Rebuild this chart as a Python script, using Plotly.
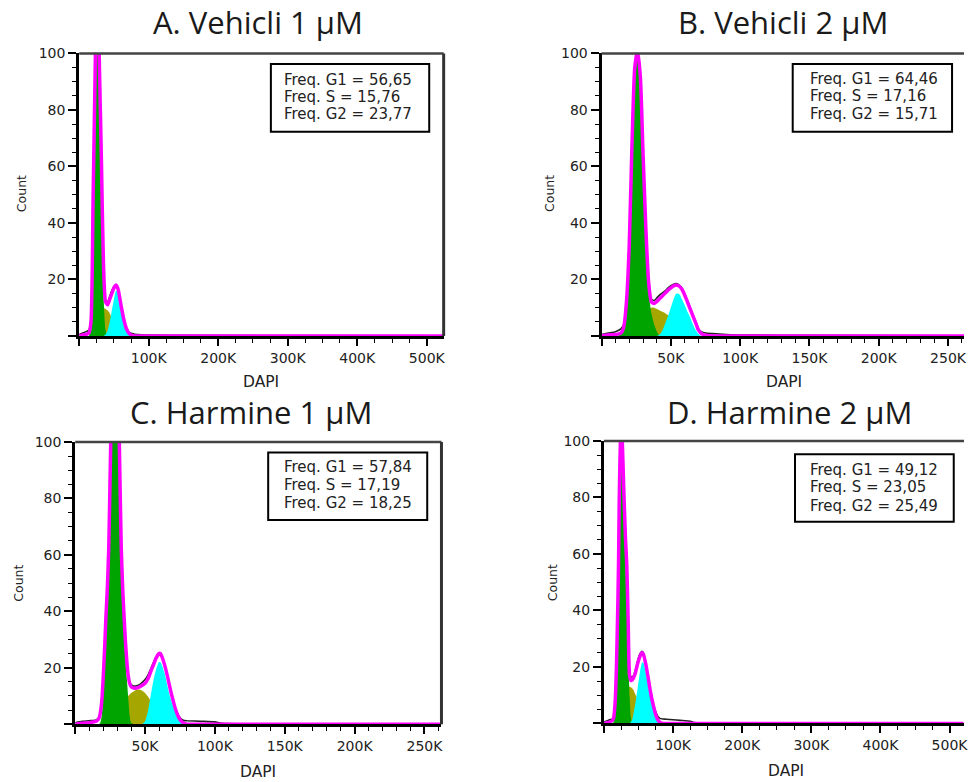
import plotly.graph_objects as go

W, H = 968, 782

# ---------------- text content ----------------
TITLES = ["A. Vehicli 1 µM", "B. Vehicli 2 µM", "C. Harmine 1 µM", "D. Harmine 2 µM"]
FREQ_G1 = ["56,65", "64,46", "57,84", "49,12"]
FREQ_S = ["15,76", "17,16", "17,19", "23,05"]
FREQ_G2 = ["23,77", "15,71", "18,25", "25,49"]

X_TICKS_500K = [0, 100, 200, 300, 400, 500]
X_TICKTEXT_500K = ["", "100K", "200K", "300K", "400K", "500K"]
X_TICKS_250K = [0, 50, 100, 150, 200, 250]
X_TICKTEXT_250K = ["", "50K", "100K", "150K", "200K", "250K"]
Y_TICKS = [0, 20, 40, 60, 80, 100]
Y_TICKTEXT = ["", "20", "40", "60", "80", "100"]

# ---------------- data (DAPI in K, counts) ----------------
# Panel A
DAPI_A = [0, 5, 10, 14, 17, 20, 23, 26, 29, 32, 35, 38, 41, 44, 47, 50, 53, 56, 59, 62, 65, 68, 72, 76, 80, 90, 100, 150, 524.288]
G1_A = [0, 0, 0, 0, 4, 45, 88, 128, 88, 52, 15, 2, 0, 0, 0, 0, 0, 0, 0, 0, 0, 0, 0, 0, 0, 0, 0, 0, 0]
S_A = [0, 0, 0, 0, 0, 3, 6, 8, 9, 10, 10, 9.5, 9, 8, 6, 4, 2, 1, 0, 0, 0, 0, 0, 0, 0, 0, 0, 0, 0]
G2_A = [0, 0, 0, 0, 0, 0, 0, 0, 0, 0, 0, 0.5, 2, 5, 9, 13, 16, 15.5, 12.5, 8.5, 5, 2.5, 0.7, 0, 0, 0, 0, 0, 0]
MODEL_A = [0, 0.3, 0.5, 1, 5, 48, 94, 136, 97, 62, 25, 12, 11, 13, 15, 17, 18, 16.5, 12.5, 8.5, 5, 2.5, 0.8, 0.2, 0, 0, 0, 0, 0]
RAW_A = [0.5, 1, 1.5, 2, 6, 47, 92, 135, 96, 60, 24, 12.5, 12, 14, 16, 17.5, 18, 16.5, 12.5, 8, 5, 2.5, 1.2, 0.8, 0.6, 0.4, 0.3, 0.2, 0]

# Panel B
DAPI_B = [0, 5, 10, 14, 16, 18, 20, 22, 24, 26, 28, 30, 32, 34, 36, 38, 40, 42, 44, 46, 48, 50, 52, 54, 56, 58, 60, 62, 64, 66, 68, 70, 72, 75, 80, 90, 100, 150, 262.144]
G1_B = [0, 0, 0, 0.5, 2.5, 12, 30, 65, 93, 100, 90, 62, 35, 16, 8, 4, 1.5, 0, 0, 0, 0, 0, 0, 0, 0, 0, 0, 0, 0, 0, 0, 0, 0, 0, 0, 0, 0, 0, 0]
S_B = [0, 0, 0, 0, 1, 2, 3, 4, 5, 6, 7, 8.5, 9, 9.5, 10, 10, 9.5, 9, 8.5, 8, 7.3, 6.5, 5.5, 4.5, 3.5, 2.5, 1.5, 0.8, 0, 0, 0, 0, 0, 0, 0, 0, 0, 0, 0]
G2_B = [0, 0, 0, 0, 0, 0, 0, 0, 0, 0, 0, 0, 0, 0, 0, 0, 0, 0.5, 2, 4.5, 7, 10, 13, 15, 14.8, 13, 11, 8.5, 6.5, 4, 2, 0.7, 0, 0, 0, 0, 0, 0, 0]
MODEL_B = [0, 0.3, 0.5, 1, 3, 12, 32, 68, 95, 101, 92, 64, 38, 19, 12, 11.5, 12.2, 13.2, 14.2, 15.2, 16.2, 17, 17.7, 18, 17.6, 16.5, 14.5, 12, 9.5, 7, 4.5, 2, 0.8, 0.2, 0, 0, 0, 0, 0]
RAW_B = [0.5, 1, 1.5, 2.5, 4, 13, 33, 68, 95, 101, 92, 64, 38, 20, 13, 12.5, 13.5, 14.5, 15.2, 16, 17, 17.8, 18.3, 18.5, 18, 17, 15, 12.5, 10, 7.5, 5, 2.5, 1.5, 1, 0.8, 0.5, 0.3, 0.2, 0]

# Panel C
DAPI_C = [0, 5, 10, 15, 17, 18, 19, 20, 21, 22, 23, 24, 25, 26, 27, 28.5, 30, 31, 32, 33, 34, 35, 36, 37, 38, 39, 40, 42, 44, 46, 48, 50, 52, 54, 56, 58, 60, 61, 62, 64, 66, 68, 70, 72, 74, 76, 78, 80, 90, 100, 105, 150, 262.144]
G1_C = [0, 0, 0, 0, 0, 0.5, 3, 10, 20, 32, 42, 55, 80, 105, 135, 180, 140, 110, 80, 55, 42, 32, 23, 16, 9, 3, 0.5, 0, 0, 0, 0, 0, 0, 0, 0, 0, 0, 0, 0, 0, 0, 0, 0, 0, 0, 0, 0, 0, 0, 0, 0, 0, 0]
S_C = [0, 0, 0, 0, 0, 0, 0, 0, 0, 0, 0, 0, 1, 1.5, 2, 2.5, 3, 3.8, 4.5, 5.2, 6, 7, 8, 9, 10, 10.5, 11, 11.7, 12.2, 12.3, 11.8, 11, 9.8, 8.3, 6, 4.5, 3, 2.5, 2, 1, 0.5, 0, 0, 0, 0, 0, 0, 0, 0, 0, 0, 0, 0]
G2_C = [0, 0, 0, 0, 0, 0, 0, 0, 0, 0, 0, 0, 0, 0, 0, 0, 0, 0, 0, 0, 0, 0, 0, 0, 0, 0, 0, 0, 0, 0, 0, 1, 4.5, 10, 15.5, 19.5, 22, 22, 21, 18, 13.5, 9.5, 6.5, 4.2, 2, 0.5, 0, 0, 0, 0, 0, 0, 0]
MODEL_C = [0, 0.3, 0.5, 1, 2, 4, 8, 16, 26, 38, 48, 62, 88, 115, 145, 190, 150, 118, 88, 62, 48, 38, 29, 22, 17, 14.5, 13.3, 12.8, 12.8, 13.2, 13.8, 14.5, 16, 18.5, 21, 23.5, 25, 25, 24, 21, 17, 12.5, 8.5, 5, 2.5, 1, 0.3, 0, 0, 0, 0, 0, 0]
RAW_C = [0.5, 1, 1.2, 1.5, 2.5, 4.5, 8.5, 16, 26, 38, 48, 62, 88, 115, 145, 190, 150, 118, 88, 62, 48, 38, 29, 22, 17.5, 15, 14, 13.5, 13.6, 14, 14.8, 15.8, 17.3, 19.5, 21.8, 24, 25.2, 25, 24, 21, 17, 12.5, 8.5, 5.2, 3, 1.8, 1.3, 1.2, 1, 0.8, 0.3, 0.1, 0]

# Panel D
DAPI_D = [0, 5, 8, 12, 14, 16, 18, 20, 21, 22, 23, 24, 25, 26, 27, 29, 31, 33, 35, 37, 39, 41, 43, 45, 47, 49, 51, 53, 55, 57, 60, 63, 66, 69, 72, 75, 78, 81, 85, 90, 100, 110, 125, 130, 200, 520]
G1_D = [0, 0, 0, 0, 0.5, 4, 14, 36, 48, 70, 82, 90, 93, 90, 85, 72, 58, 44, 26, 10, 2, 0, 0, 0, 0, 0, 0, 0, 0, 0, 0, 0, 0, 0, 0, 0, 0, 0, 0, 0, 0, 0, 0, 0, 0, 0]
S_D = [0, 0, 0, 0, 0, 1, 2, 3, 3.5, 4, 4.5, 5, 5.5, 6, 6.5, 8, 9.5, 11.5, 13, 13, 12.8, 12.3, 11.7, 10.5, 9.5, 8.5, 7.3, 6, 4.5, 3.5, 2, 1, 0.5, 0, 0, 0, 0, 0, 0, 0, 0, 0, 0, 0, 0, 0]
G2_D = [0, 0, 0, 0, 0, 0, 0, 0, 0, 0, 0, 0, 0, 0, 0, 0, 0, 0, 0, 0, 0.5, 1.5, 4, 6.5, 9.5, 13, 16.5, 19.5, 21.5, 21.5, 18.5, 15, 11, 8, 5, 2, 0.5, 0, 0, 0, 0, 0, 0, 0, 0, 0]
MODEL_D = [0, 0.3, 0.5, 1, 2, 7, 20, 42, 56, 78, 92, 102, 108, 103, 96, 80, 66, 56, 36, 17, 15.2, 15.5, 16.3, 17.5, 19.5, 21.5, 23, 24.3, 25, 24.5, 21.5, 17.5, 13, 9, 5.8, 3, 1.2, 0.4, 0, 0, 0, 0, 0, 0, 0, 0]
RAW_D = [0.5, 1, 1.3, 1.5, 2.5, 7, 20, 42, 56, 78, 92, 102, 108, 103, 96, 80, 66, 56, 36, 18, 16.5, 16.5, 17, 18.5, 20.5, 22.5, 24, 25, 25.5, 25, 22, 18, 13.5, 9.5, 6.5, 4, 2.5, 1.8, 1.6, 1.5, 1.3, 1.1, 0.8, 0.3, 0.1, 0]

PANELS = [
    dict(x=DAPI_A, g1=G1_A, s=S_A, g2=G2_A, model=MODEL_A, raw=RAW_A),
    dict(x=DAPI_B, g1=G1_B, s=S_B, g2=G2_B, model=MODEL_B, raw=RAW_B),
    dict(x=DAPI_C, g1=G1_C, s=S_C, g2=G2_C, model=MODEL_C, raw=RAW_C),
    dict(x=DAPI_D, g1=G1_D, s=S_D, g2=G2_D, model=MODEL_D, raw=RAW_D),
]

# ---------------- layout geometry (target pixels) ----------------
GEOM = [
    dict(x0=79.5, x1=445.5, y0=51.5, y1=334.7, xr=524.288, scale="500K", right=True),
    dict(x0=604, x1=968, y0=51.5, y1=334.7, xr=261.5, scale="250K", right=False),
    dict(x0=75.5, x1=443.3, y0=441, y1=724, xr=262.144, scale="250K", right=True),
    dict(x0=606.5, x1=968, y0=440, y1=723.3, xr=520.9, scale="500K", right=False),
]
TITLE_POS = [(259, 20), (786.5, 20), (252, 411), (792.5, 411)]
BOX_POS = [(272, 62, 431, 130), (796, 62, 956, 130), (269.3, 451.7, 429, 519.3), (798.3, 453.3, 957.7, 521)]
FREQ_TEXT_POS = [(283.3, [77.7, 95, 112.3]), (811, [76.7, 94, 112.3]),
                 (282.7, [466, 484.3, 502.3]), (811, [469, 486.7, 505])]
COUNT_POS = [(21.7, 192), (551.7, 192), (18.3, 583), (555, 582)]
DAPI_POS = [(262, 380.7), (787.5, 380.7), (259, 771.7), (789, 771)]

GREEN = "#00a400"
OLIVE = "#a6a600"
CYAN = "#00ffff"
MAGENTA = "#ff00ff"

TICK_FONT = dict(family="DejaVu Sans", size=14, color="#222222")


def px(x):
    return x / W


def py(y):
    # vertical compensation measured from the rendered output
    y = y * 788.0 / 782.0 - 6.0
    return 1 - y / H


fig = go.Figure()
annotations = []
shapes = []

for i, (p, g) in enumerate(zip(PANELS, GEOM)):
    n = "" if i == 0 else str(i + 1)
    xa, ya = "x" + n, "y" + n
    common = dict(x=p["x"], xaxis=xa, yaxis=ya, mode="lines", showlegend=False, hoverinfo="skip")
    fig.add_trace(go.Scatter(y=p["s"], fill="tozeroy", fillcolor=OLIVE,
                             line=dict(width=0, shape="spline", smoothing=0.6), **common))
    fig.add_trace(go.Scatter(y=p["g1"], fill="tozeroy", fillcolor=GREEN,
                             line=dict(width=0, shape="spline", smoothing=0.6), **common))
    fig.add_trace(go.Scatter(y=p["g2"], fill="tozeroy", fillcolor=CYAN,
                             line=dict(width=0, shape="spline", smoothing=0.6), **common))
    fig.add_trace(go.Scatter(y=p["raw"], line=dict(width=1.6, color="#222222", shape="spline", smoothing=0.5), **common))
    fig.add_trace(go.Scatter(y=p["model"], line=dict(width=3.5, color=MAGENTA, shape="spline", smoothing=0.6), **common))

    if g["scale"] == "500K":
        tv, tt = X_TICKS_500K, X_TICKTEXT_500K
        minor = [v for v in range(25, 525, 25) if v % 100 != 0]
    else:
        tv, tt = X_TICKS_250K, X_TICKTEXT_250K
        minor = [v for v in range(10, 262, 10) if v % 50 != 0]

    fig.layout["xaxis" + n] = dict(
        domain=[px(g["x0"]), px(g["x1"])], range=[0, g["xr"]], anchor=ya,
        showgrid=False, zeroline=False, showline=True, linecolor="black", linewidth=3,
        ticks="outside", ticklen=7, tickwidth=1.6, tickcolor="black",
        tickmode="array", tickvals=tv, ticktext=tt, tickfont=TICK_FONT,
        ticklabeloverflow="allow",
        minor=dict(tickmode="array", tickvals=minor, ticks="outside", ticklen=4,
                   tickwidth=1.4, tickcolor="black", showgrid=False),
        fixedrange=True,
    )
    fig.layout["yaxis" + n] = dict(
        domain=[py(g["y1"]), py(g["y0"])], range=[0, 100], anchor=xa,
        showgrid=False, zeroline=False, showline=True, linecolor="black", linewidth=3,
        ticks="outside", ticklen=8, tickwidth=1.6, tickcolor="black",
        tickmode="array", tickvals=Y_TICKS, ticktext=Y_TICKTEXT, tickfont=TICK_FONT,
        minor=dict(tickmode="array", tickvals=[v for v in range(5, 100, 5) if v % 20 != 0],
                   ticks="outside", ticklen=4, tickwidth=1.4, tickcolor="black", showgrid=False),
        fixedrange=True,
    )

    # frame: top and (where visible) right borders
    shapes.append(dict(type="line", xref=xa + " domain", yref=ya + " domain",
                       x0=0, x1=1, y0=1, y1=1, line=dict(color="#444444", width=2.5)))
    if g["right"]:
        shapes.append(dict(type="line", xref=xa + " domain", yref=ya + " domain",
                           x0=1, x1=1, y0=0, y1=1, line=dict(color="#333333", width=3)))

    # title
    tx, ty = TITLE_POS[i]
    annotations.append(dict(text=TITLES[i], x=px(tx), y=py(ty), xref="paper", yref="paper",
                            xanchor="center", yanchor="middle", showarrow=False,
                            font=dict(family="Open Sans", size=31, color="#1a1a1a")))
    # frequency box
    bx0, by0, bx1, by1 = BOX_POS[i]
    shapes.append(dict(type="rect", xref="paper", yref="paper", x0=px(bx0), x1=px(bx1),
                       y0=py(by1), y1=py(by0), line=dict(color="black", width=2),
                       fillcolor="white", layer="above"))
    fx, fys = FREQ_TEXT_POS[i]
    lines = ["Freq. G1 = " + FREQ_G1[i], "Freq. S = " + FREQ_S[i], "Freq. G2 = " + FREQ_G2[i]]
    for line, fy in zip(lines, fys):
        annotations.append(dict(text=line, x=px(fx), y=py(fy), xref="paper", yref="paper",
                                xanchor="left", yanchor="middle", showarrow=False,
                                font=dict(family="DejaVu Sans", size=15, color="#222222")))
    # axis titles
    cx, cy = COUNT_POS[i]
    annotations.append(dict(text="Count", x=px(cx), y=py(cy), xref="paper", yref="paper",
                            xanchor="center", yanchor="middle", textangle=-90, showarrow=False,
                            font=dict(family="DejaVu Sans", size=12.5, color="#222222")))
    dx, dy = DAPI_POS[i]
    annotations.append(dict(text="DAPI", x=px(dx), y=py(dy), xref="paper", yref="paper",
                            xanchor="center", yanchor="middle", showarrow=False,
                            font=dict(family="DejaVu Sans", size=15.5, color="#222222")))

fig.update_layout(
    width=W, height=H, margin=dict(l=0, r=0, t=0, b=0),
    paper_bgcolor="white", plot_bgcolor="white",
    annotations=annotations, shapes=shapes, showlegend=False,
)

fig.write_html("out.html", config={"displayModeBar": False})
